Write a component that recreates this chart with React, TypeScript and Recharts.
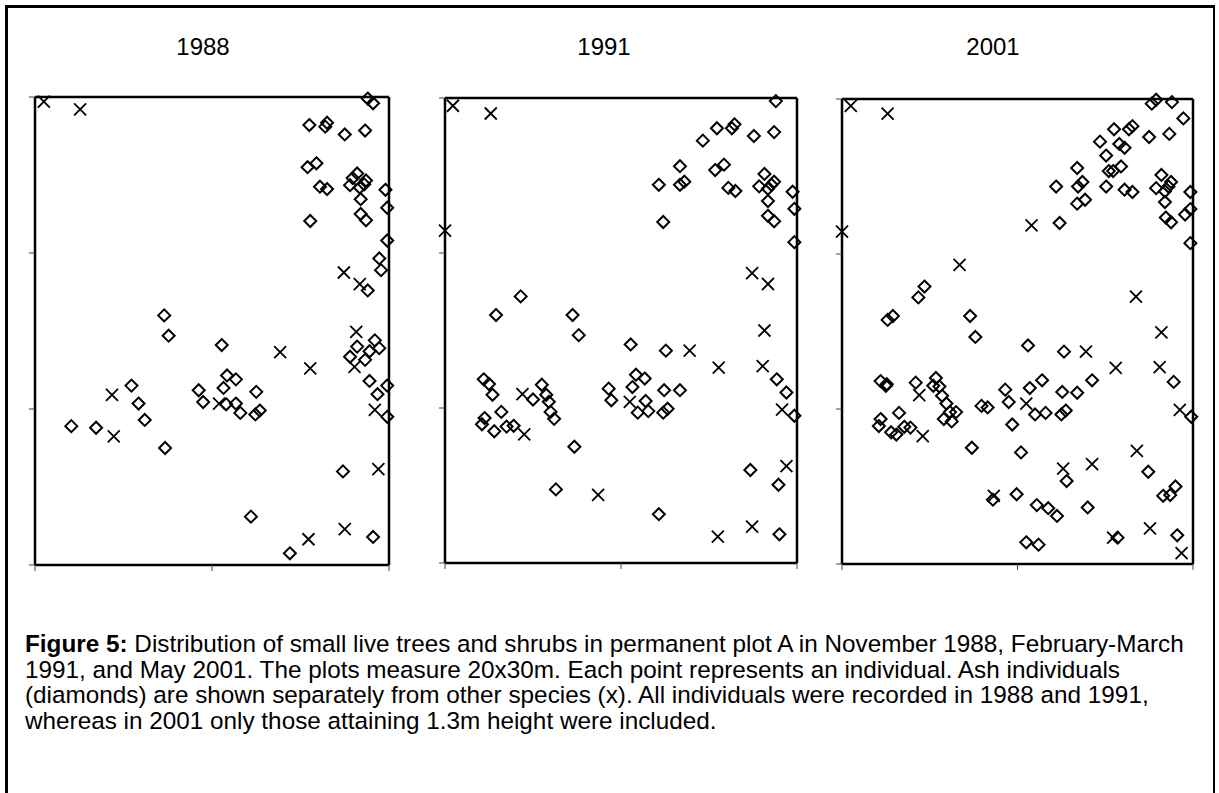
import { ReferenceLine, Scatter, ScatterChart, XAxis, YAxis } from "recharts";

type Pt = [number, number];

// plot is 20 m wide, 30 m tall
const years = ["1988", "1991", "2001"];
const xTicks = [0, 10, 20];
const yTicks = [0, 10, 20, 30];

// ash (diamonds) and other species (x), [x, y] in metres
const ash1988: Pt[] = [
  [18.8, 29.9], [19.1, 29.6], [15.5, 28.2], [16.4, 28.1], [16.5, 28.35], [17.5, 27.6], [18.65, 27.85],
  [15.4, 25.5], [15.9, 25.75], [16.1, 24.25], [16.5, 24.1], [18.2, 25.1], [17.95, 24.8], [18.7, 24.65],
  [17.8, 24.35], [18.35, 24.2], [18.6, 24.4], [19.8, 24.05], [18.4, 23.45], [19.9, 22.9], [15.55, 22.05],
  [18.4, 22.5], [18.7, 22.1], [19.9, 20.8], [19.45, 19.65], [19.55, 18.9], [18.8, 17.6], [7.3, 16.0],
  [7.55, 14.7], [10.55, 14.1], [19.2, 14.4], [18.2, 14.0], [18.9, 13.7], [19.45, 13.9], [17.8, 13.35],
  [18.65, 13.15], [18.9, 11.8], [19.9, 11.5], [19.35, 10.95], [19.9, 9.5], [5.45, 11.5], [5.85, 10.35],
  [6.2, 9.3], [2.05, 8.9], [3.45, 8.8], [7.35, 7.5], [9.25, 11.2], [9.5, 10.45], [10.85, 12.15],
  [11.35, 11.9], [10.65, 11.35], [10.8, 10.3], [11.35, 10.35], [11.6, 9.75], [12.5, 11.1], [12.45, 9.65],
  [12.7, 9.9], [17.4, 6.0], [12.2, 3.1], [14.4, 0.75], [19.1, 1.8],
];
const other1988: Pt[] = [
  [0.5, 29.7], [2.55, 29.2], [17.45, 18.75], [18.35, 18.0], [18.15, 14.95], [13.85, 13.65], [15.55, 12.6],
  [18.05, 12.7], [4.35, 10.9], [4.45, 8.25], [10.4, 10.35], [19.2, 9.95], [19.4, 6.15], [17.5, 2.3],
  [15.45, 1.65],
];

const ash1991: Pt[] = [
  [18.8, 29.8], [15.45, 28.05], [16.3, 28.05], [16.45, 28.3], [17.55, 27.55], [18.7, 27.8], [14.65, 27.25],
  [13.35, 25.6], [15.35, 25.35], [15.85, 25.7], [12.15, 24.4], [13.35, 24.4], [13.6, 24.6], [16.1, 24.2],
  [16.5, 24.0], [18.15, 25.1], [17.85, 24.3], [18.7, 24.6], [18.35, 24.15], [18.55, 24.4], [19.75, 23.95],
  [18.35, 23.35], [19.85, 22.85], [12.4, 22.0], [18.35, 22.4], [18.7, 22.05], [19.85, 20.7], [4.3, 17.2],
  [2.9, 16.0], [7.25, 16.0], [7.6, 14.7], [10.55, 14.1], [12.55, 13.7], [2.2, 11.85], [2.5, 11.55],
  [2.7, 10.85], [5.5, 11.5], [5.75, 10.85], [5.0, 10.55], [5.9, 10.4], [6.0, 9.75], [6.2, 9.3],
  [3.2, 9.75], [2.25, 9.35], [2.1, 8.95], [2.8, 8.5], [3.5, 8.8], [3.9, 8.85], [7.35, 7.5],
  [9.3, 11.25], [9.45, 10.5], [10.85, 12.15], [11.35, 11.9], [10.65, 11.35], [11.4, 10.45], [10.95, 9.7],
  [11.55, 9.8], [12.45, 11.15], [13.35, 11.15], [12.4, 9.7], [12.65, 9.95], [18.85, 11.85], [19.4, 11.0],
  [19.85, 9.5], [17.35, 6.0], [18.95, 5.05], [6.3, 4.75], [12.15, 3.15], [19.0, 1.85],
];
const other1991: Pt[] = [
  [0.45, 29.5], [2.6, 29.0], [0, 21.45], [17.45, 18.7], [18.35, 18.0], [18.15, 15.0], [13.9, 13.7],
  [15.55, 12.6], [18.05, 12.7], [4.4, 10.9], [4.5, 8.3], [10.5, 10.4], [19.15, 9.9], [19.4, 6.25],
  [8.7, 4.4], [17.45, 2.35], [15.5, 1.7],
];

const ash2001: Pt[] = [
  [17.9, 29.95], [17.65, 29.7], [18.8, 29.8], [19.45, 28.75], [15.5, 28.05], [16.35, 28.05], [16.55, 28.25],
  [17.5, 27.55], [18.65, 27.75], [14.7, 27.25], [15.8, 27.1], [16.1, 26.85], [15.05, 26.35], [13.4, 25.55],
  [15.2, 25.35], [15.45, 25.35], [15.9, 25.65], [12.2, 24.35], [13.45, 24.35], [13.7, 24.65], [13.85, 23.5],
  [13.4, 23.25], [15.05, 24.35], [16.1, 24.15], [16.55, 24.0], [18.2, 25.1], [17.9, 24.25], [18.75, 24.65],
  [18.4, 24.05], [18.6, 24.35], [19.85, 24.0], [18.4, 23.35], [19.85, 22.9], [19.55, 22.55], [12.4, 22.0],
  [18.45, 22.35], [18.75, 22.05], [19.85, 20.7], [4.7, 17.9], [4.35, 17.2], [2.6, 15.75], [2.9, 16.0],
  [7.3, 16.0], [7.6, 14.65], [10.6, 14.1], [12.65, 13.7], [2.2, 11.8], [2.5, 11.5], [2.55, 11.6],
  [4.2, 11.7], [5.35, 12.0], [5.2, 11.5], [5.55, 11.45], [5.7, 10.85], [5.95, 10.35], [6.5, 9.8],
  [6.15, 9.8], [5.8, 9.35], [6.25, 9.2], [3.25, 9.75], [2.2, 9.35], [2.1, 8.9], [2.8, 8.5],
  [3.1, 8.35], [3.55, 8.85], [3.9, 8.8], [7.4, 7.5], [7.95, 10.2], [8.3, 10.1], [9.3, 11.25],
  [9.5, 10.45], [9.7, 9.0], [10.7, 11.35], [11.4, 11.85], [11.0, 9.65], [11.6, 9.75], [12.55, 11.1],
  [13.4, 11.05], [14.25, 11.85], [12.5, 9.65], [12.75, 9.9], [18.9, 11.75], [19.9, 9.5], [10.2, 7.2],
  [17.45, 5.95], [12.8, 5.35], [19.0, 5.0], [18.7, 4.45], [18.3, 4.4], [8.6, 4.15], [9.95, 4.5],
  [11.1, 3.8], [11.75, 3.6], [12.25, 3.1], [14.0, 3.65], [10.5, 1.4], [11.2, 1.25], [15.7, 1.7],
  [19.1, 1.85],
];
const other2001: Pt[] = [
  [0.5, 29.55], [2.6, 29.05], [0, 21.45], [10.8, 21.85], [6.7, 19.3], [16.75, 17.25], [18.2, 14.95],
  [13.9, 13.7], [15.6, 12.65], [18.1, 12.7], [4.4, 10.9], [4.6, 8.25], [10.5, 10.35], [19.25, 9.95],
  [16.8, 7.3], [12.6, 6.15], [14.25, 6.45], [8.65, 4.4], [17.55, 2.3], [15.45, 1.7], [19.35, 0.7],
];

const ashByYear = [ash1988, ash1991, ash2001];
const otherByYear = [other1988, other1991, other2001];

const captionLines = [
  "Distribution of small live trees and shrubs in permanent plot A in November 1988, February-March",
  "1991, and May 2001. The plots measure 20x30m. Each point represents an individual. Ash individuals",
  "(diamonds) are shown separately from other species (x). All individuals were recorded in 1988 and 1991,",
  "whereas in 2001 only those attaining 1.3m height were included.",
];

// plot-area edges in page pixels
const panels = [
  { left: 35, right: 389, top: 97, bottom: 565, titleX: 203 },
  { left: 445, right: 797, top: 98, bottom: 563, titleX: 604 },
  { left: 842, right: 1193, top: 99, bottom: 564, titleX: 993 },
];

const FONT = '"Liberation Sans", Arial, sans-serif';
const toRows = (pts: Pt[]) => pts.map(([x, y]) => ({ x, y }));
const noLabel = () => "";

function Diamond(props: any) {
  const { cx, cy } = props;
  const r = 6;
  return (
    <path
      d={`M${cx},${cy - r}L${cx + r},${cy}L${cx},${cy + r}L${cx - r},${cy}Z`}
      fill="none"
      stroke="#000"
      strokeWidth={2}
    />
  );
}

function Cross(props: any) {
  const { cx, cy } = props;
  const r = 6;
  return (
    <path
      d={`M${cx - r},${cy - r}L${cx + r},${cy + r}M${cx - r},${cy + r}L${cx + r},${cy - r}`}
      stroke="#000"
      strokeWidth={1.8}
    />
  );
}

function Panel({ idx }: { idx: number }) {
  const p = panels[idx];
  const w = p.right - p.left;
  const h = p.bottom - p.top;
  return (
    <div style={{ position: "absolute", left: p.left - 10, top: p.top - 10 }}>
      <ScatterChart width={w + 20} height={h + 20} margin={{ top: 10, right: 10, bottom: 0, left: 0 }}>
        <XAxis
          type="number"
          dataKey="x"
          domain={[0, 20]}
          ticks={xTicks}
          interval={0}
          tick={{ fontSize: 0 }}
          tickFormatter={noLabel}
          tickSize={6}
          height={10}
          axisLine={{ stroke: "#000", strokeWidth: 2.5 }}
          tickLine={{ stroke: "#444" }}
        />
        <YAxis
          type="number"
          dataKey="y"
          domain={[0, 30]}
          ticks={yTicks}
          interval={0}
          tick={{ fontSize: 0 }}
          tickFormatter={noLabel}
          tickSize={6}
          width={10}
          axisLine={{ stroke: "#000", strokeWidth: 2.5 }}
          tickLine={{ stroke: "#444" }}
        />
        <ReferenceLine y={30} stroke="#000" strokeWidth={2.5} />
        <ReferenceLine x={20} stroke="#000" strokeWidth={2.5} />
        <Scatter data={toRows(ashByYear[idx])} shape={Diamond} isAnimationActive={false} />
        <Scatter data={toRows(otherByYear[idx])} shape={Cross} isAnimationActive={false} />
      </ScatterChart>
    </div>
  );
}

export default function App() {
  return (
    <div
      style={{
        position: "absolute",
        left: 0,
        top: 0,
        width: 1219,
        height: 793,
        overflow: "hidden",
        background: "#fff",
        fontFamily: FONT,
        color: "#000",
      }}
    >
      <div
        style={{
          position: "absolute",
          left: 5,
          top: 5,
          width: 1205,
          height: 820,
          borderLeft: "3px solid #000",
          borderTop: "3px solid #000",
          borderRight: "2px solid #000",
        }}
      />
      {years.map((yr, i) => (
        <div
          key={yr}
          style={{
            position: "absolute",
            left: panels[i].titleX - 50,
            top: 35,
            width: 100,
            textAlign: "center",
            fontSize: 24,
            lineHeight: "24px",
          }}
        >
          {yr}
        </div>
      ))}
      {years.map((yr, i) => (
        <Panel key={yr} idx={i} />
      ))}
      <div style={{ position: "absolute", left: 25, top: 631, fontSize: 24.3, lineHeight: "25.6px", whiteSpace: "nowrap" }}>
        {captionLines.map((line, i) => (
          <div key={i}>
            {i === 0 && <b>Figure 5: </b>}
            {line}
          </div>
        ))}
      </div>
    </div>
  );
}
